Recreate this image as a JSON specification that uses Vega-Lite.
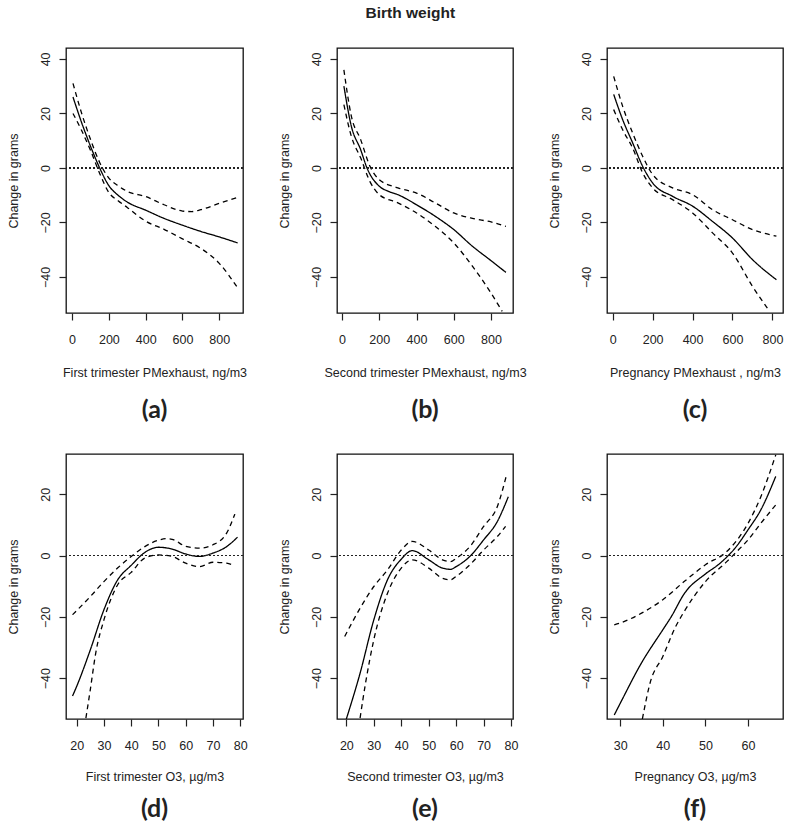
{
"$schema":"https://vega.github.io/schema/vega-lite/v6.json",
"padding":{"left":6,"top":5,"right":5,"bottom":5},
"title":{"text":"Birth weight","orient":"top","fontSize":15.5,"fontWeight":"bold","font":"Liberation Sans","color":"#222","anchor":"middle","offset":26,"dx":15},
"datasets":{"d":[
{"p":"a","s":"fit","x":5,"y":26},{"p":"a","s":"fit","x":50,"y":17},{"p":"a","s":"fit","x":100,"y":8},{"p":"a","s":"fit","x":150,"y":0},{"p":"a","s":"fit","x":200,"y":-6.5},{"p":"a","s":"fit","x":250,"y":-10},{"p":"a","s":"fit","x":300,"y":-12.5},{"p":"a","s":"fit","x":400,"y":-15.5},{"p":"a","s":"fit","x":500,"y":-18.5},{"p":"a","s":"fit","x":600,"y":-21},{"p":"a","s":"fit","x":700,"y":-23.3},{"p":"a","s":"fit","x":800,"y":-25.3},{"p":"a","s":"fit","x":900,"y":-27.5},
{"p":"a","s":"hi","x":5,"y":31},{"p":"a","s":"hi","x":50,"y":20.5},{"p":"a","s":"hi","x":100,"y":10.5},{"p":"a","s":"hi","x":150,"y":2},{"p":"a","s":"hi","x":200,"y":-3.7},{"p":"a","s":"hi","x":250,"y":-6.5},{"p":"a","s":"hi","x":300,"y":-8.6},{"p":"a","s":"hi","x":400,"y":-10.5},{"p":"a","s":"hi","x":500,"y":-13.5},{"p":"a","s":"hi","x":600,"y":-15.8},{"p":"a","s":"hi","x":650,"y":-16},{"p":"a","s":"hi","x":700,"y":-15.3},{"p":"a","s":"hi","x":800,"y":-13},{"p":"a","s":"hi","x":900,"y":-10.8},
{"p":"a","s":"lo","x":5,"y":20},{"p":"a","s":"lo","x":50,"y":14},{"p":"a","s":"lo","x":100,"y":6.5},{"p":"a","s":"lo","x":150,"y":-2},{"p":"a","s":"lo","x":200,"y":-9},{"p":"a","s":"lo","x":250,"y":-12},{"p":"a","s":"lo","x":300,"y":-14.5},{"p":"a","s":"lo","x":400,"y":-19.5},{"p":"a","s":"lo","x":500,"y":-22.5},{"p":"a","s":"lo","x":600,"y":-26},{"p":"a","s":"lo","x":700,"y":-29.5},{"p":"a","s":"lo","x":800,"y":-35},{"p":"a","s":"lo","x":900,"y":-44},
{"p":"b","s":"fit","x":10,"y":30},{"p":"b","s":"fit","x":50,"y":15.3},{"p":"b","s":"fit","x":100,"y":6.7},{"p":"b","s":"fit","x":134,"y":0},{"p":"b","s":"fit","x":200,"y":-6.7},{"p":"b","s":"fit","x":250,"y":-8.6},{"p":"b","s":"fit","x":300,"y":-9.8},{"p":"b","s":"fit","x":400,"y":-13.5},{"p":"b","s":"fit","x":500,"y":-17.7},{"p":"b","s":"fit","x":600,"y":-22.6},{"p":"b","s":"fit","x":700,"y":-28.7},{"p":"b","s":"fit","x":800,"y":-34},{"p":"b","s":"fit","x":880,"y":-38.3},
{"p":"b","s":"hi","x":10,"y":36},{"p":"b","s":"hi","x":50,"y":19},{"p":"b","s":"hi","x":100,"y":10.4},{"p":"b","s":"hi","x":150,"y":0.6},{"p":"b","s":"hi","x":200,"y":-4.3},{"p":"b","s":"hi","x":300,"y":-7.3},{"p":"b","s":"hi","x":400,"y":-9.2},{"p":"b","s":"hi","x":500,"y":-12.8},{"p":"b","s":"hi","x":600,"y":-16.5},{"p":"b","s":"hi","x":700,"y":-18.5},{"p":"b","s":"hi","x":800,"y":-19.8},{"p":"b","s":"hi","x":880,"y":-21.4},
{"p":"b","s":"lo","x":10,"y":23.2},{"p":"b","s":"lo","x":50,"y":11.6},{"p":"b","s":"lo","x":100,"y":3.7},{"p":"b","s":"lo","x":150,"y":-5},{"p":"b","s":"lo","x":200,"y":-9.8},{"p":"b","s":"lo","x":300,"y":-12.8},{"p":"b","s":"lo","x":400,"y":-16.5},{"p":"b","s":"lo","x":500,"y":-21.4},{"p":"b","s":"lo","x":600,"y":-27.5},{"p":"b","s":"lo","x":700,"y":-36},{"p":"b","s":"lo","x":800,"y":-45.9},{"p":"b","s":"lo","x":860,"y":-52.6},
{"p":"c","s":"fit","x":5,"y":27},{"p":"c","s":"fit","x":50,"y":17.7},{"p":"c","s":"fit","x":100,"y":9.2},{"p":"c","s":"fit","x":150,"y":0.6},{"p":"c","s":"fit","x":200,"y":-5.5},{"p":"c","s":"fit","x":300,"y":-10.4},{"p":"c","s":"fit","x":400,"y":-14},{"p":"c","s":"fit","x":500,"y":-19.6},{"p":"c","s":"fit","x":600,"y":-25.7},{"p":"c","s":"fit","x":700,"y":-33.6},{"p":"c","s":"fit","x":820,"y":-41},
{"p":"c","s":"hi","x":5,"y":33.6},{"p":"c","s":"hi","x":50,"y":22.6},{"p":"c","s":"hi","x":100,"y":12.8},{"p":"c","s":"hi","x":150,"y":4.3},{"p":"c","s":"hi","x":200,"y":-2.4},{"p":"c","s":"hi","x":300,"y":-7.3},{"p":"c","s":"hi","x":400,"y":-9.8},{"p":"c","s":"hi","x":500,"y":-15.3},{"p":"c","s":"hi","x":600,"y":-19},{"p":"c","s":"hi","x":700,"y":-22.6},{"p":"c","s":"hi","x":820,"y":-25},
{"p":"c","s":"lo","x":5,"y":21.4},{"p":"c","s":"lo","x":50,"y":14},{"p":"c","s":"lo","x":100,"y":7.3},{"p":"c","s":"lo","x":150,"y":-1.8},{"p":"c","s":"lo","x":200,"y":-7.3},{"p":"c","s":"lo","x":300,"y":-11.6},{"p":"c","s":"lo","x":400,"y":-16.5},{"p":"c","s":"lo","x":500,"y":-23.8},{"p":"c","s":"lo","x":600,"y":-31.2},{"p":"c","s":"lo","x":700,"y":-43.4},{"p":"c","s":"lo","x":780,"y":-52},
{"p":"d","s":"fit","x":18.5,"y":-45.8},{"p":"d","s":"fit","x":20,"y":-42.7},{"p":"d","s":"fit","x":25,"y":-30.8},{"p":"d","s":"fit","x":30,"y":-17.7},{"p":"d","s":"fit","x":35,"y":-8},{"p":"d","s":"fit","x":40,"y":-3.2},{"p":"d","s":"fit","x":45,"y":1},{"p":"d","s":"fit","x":50,"y":2.7},{"p":"d","s":"fit","x":55,"y":2.1},{"p":"d","s":"fit","x":60,"y":0.5},{"p":"d","s":"fit","x":65,"y":-0.3},{"p":"d","s":"fit","x":70,"y":0.8},{"p":"d","s":"fit","x":75,"y":2.9},{"p":"d","s":"fit","x":79,"y":6},
{"p":"d","s":"hi","x":18.5,"y":-19.3},{"p":"d","s":"hi","x":25,"y":-13.4},{"p":"d","s":"hi","x":30,"y":-8.5},{"p":"d","s":"hi","x":35,"y":-4.1},{"p":"d","s":"hi","x":40,"y":-0.3},{"p":"d","s":"hi","x":45,"y":2.9},{"p":"d","s":"hi","x":50,"y":5},{"p":"d","s":"hi","x":53,"y":5.5},{"p":"d","s":"hi","x":55,"y":5.3},{"p":"d","s":"hi","x":60,"y":3},{"p":"d","s":"hi","x":65,"y":2.4},{"p":"d","s":"hi","x":70,"y":3.5},{"p":"d","s":"hi","x":75,"y":7.3},{"p":"d","s":"hi","x":78,"y":13.5},
{"p":"d","s":"lo","x":23.4,"y":-53},{"p":"d","s":"lo","x":25,"y":-43.8},{"p":"d","s":"lo","x":27,"y":-31.8},{"p":"d","s":"lo","x":30,"y":-21},{"p":"d","s":"lo","x":35,"y":-9.6},{"p":"d","s":"lo","x":40,"y":-5.5},{"p":"d","s":"lo","x":45,"y":-0.8},{"p":"d","s":"lo","x":50,"y":0.2},{"p":"d","s":"lo","x":55,"y":-0.3},{"p":"d","s":"lo","x":60,"y":-2.5},{"p":"d","s":"lo","x":65,"y":-3.6},{"p":"d","s":"lo","x":70,"y":-2.2},{"p":"d","s":"lo","x":75,"y":-2.5},{"p":"d","s":"lo","x":78,"y":-3.4},
{"p":"e","s":"fit","x":20,"y":-53.3},{"p":"e","s":"fit","x":25,"y":-38.4},{"p":"e","s":"fit","x":30,"y":-21},{"p":"e","s":"fit","x":35,"y":-7.9},{"p":"e","s":"fit","x":40,"y":-1.2},{"p":"e","s":"fit","x":44,"y":1.6},{"p":"e","s":"fit","x":50,"y":-1.4},{"p":"e","s":"fit","x":55,"y":-4.1},{"p":"e","s":"fit","x":58,"y":-4.5},{"p":"e","s":"fit","x":60,"y":-3.6},{"p":"e","s":"fit","x":65,"y":-0.3},{"p":"e","s":"fit","x":70,"y":5.1},{"p":"e","s":"fit","x":75,"y":11.1},{"p":"e","s":"fit","x":79,"y":19.2},
{"p":"e","s":"hi","x":19.4,"y":-26.4},{"p":"e","s":"hi","x":25,"y":-17.2},{"p":"e","s":"hi","x":30,"y":-10.1},{"p":"e","s":"hi","x":35,"y":-4.7},{"p":"e","s":"hi","x":40,"y":1.8},{"p":"e","s":"hi","x":44,"y":4.6},{"p":"e","s":"hi","x":50,"y":1.8},{"p":"e","s":"hi","x":55,"y":-1.4},{"p":"e","s":"hi","x":58,"y":-2},{"p":"e","s":"hi","x":60,"y":-0.9},{"p":"e","s":"hi","x":65,"y":2.9},{"p":"e","s":"hi","x":70,"y":9.5},{"p":"e","s":"hi","x":75,"y":16},{"p":"e","s":"hi","x":78.5,"y":26.8},
{"p":"e","s":"lo","x":25,"y":-53},{"p":"e","s":"lo","x":27,"y":-41.6},{"p":"e","s":"lo","x":30,"y":-27.5},{"p":"e","s":"lo","x":35,"y":-12.3},{"p":"e","s":"lo","x":40,"y":-4.1},{"p":"e","s":"lo","x":44,"y":-1.4},{"p":"e","s":"lo","x":50,"y":-4.1},{"p":"e","s":"lo","x":55,"y":-7.4},{"p":"e","s":"lo","x":58,"y":-7.9},{"p":"e","s":"lo","x":60,"y":-6.8},{"p":"e","s":"lo","x":65,"y":-3},{"p":"e","s":"lo","x":70,"y":1.8},{"p":"e","s":"lo","x":75,"y":6.2},{"p":"e","s":"lo","x":78,"y":9.5},
{"p":"f","s":"fit","x":28.6,"y":-52},{"p":"f","s":"fit","x":30,"y":-48.2},{"p":"f","s":"fit","x":35,"y":-35},{"p":"f","s":"fit","x":40,"y":-24.2},{"p":"f","s":"fit","x":42,"y":-19.9},{"p":"f","s":"fit","x":45,"y":-12.5},{"p":"f","s":"fit","x":50,"y":-6},{"p":"f","s":"fit","x":53,"y":-3},{"p":"f","s":"fit","x":55,"y":-0.5},{"p":"f","s":"fit","x":57,"y":2.5},{"p":"f","s":"fit","x":60,"y":8.4},{"p":"f","s":"fit","x":63,"y":14.9},{"p":"f","s":"fit","x":66.5,"y":25.8},
{"p":"f","s":"hi","x":28.6,"y":-22.6},{"p":"f","s":"hi","x":30,"y":-22},{"p":"f","s":"hi","x":35,"y":-18.8},{"p":"f","s":"hi","x":40,"y":-14.4},{"p":"f","s":"hi","x":45,"y":-8.5},{"p":"f","s":"hi","x":50,"y":-3},{"p":"f","s":"hi","x":55,"y":1.3},{"p":"f","s":"hi","x":60,"y":10.5},{"p":"f","s":"hi","x":63,"y":19.2},{"p":"f","s":"hi","x":66.5,"y":32.8},
{"p":"f","s":"lo","x":35.2,"y":-53.3},{"p":"f","s":"lo","x":37,"y":-41.6},{"p":"f","s":"lo","x":40,"y":-32.9},{"p":"f","s":"lo","x":43,"y":-23.2},{"p":"f","s":"lo","x":45,"y":-18.3},{"p":"f","s":"lo","x":50,"y":-8.5},{"p":"f","s":"lo","x":55,"y":-2},{"p":"f","s":"lo","x":57,"y":0.8},{"p":"f","s":"lo","x":60,"y":5.1},{"p":"f","s":"lo","x":63,"y":10.5},{"p":"f","s":"lo","x":66.5,"y":16.5}
]},
"data":{"name":"d"},
"columns":3,
"spacing":{"row":141,"column":94},
"bounds":"flush",
"concat":[
{"width":177,"height":265,"title":{"text":"(a)","orient":"bottom"},"transform":[{"filter":"datum.p=='a'"}],"layer":[
{"mark":{"type":"line","color":"black","strokeWidth":1.3,"clip":true,"interpolate":"monotone"},"encoding":{"x":{"field":"x","type":"quantitative","scale":{"domain":[-33,929],"nice":false,"zero":false},"axis":{"values":[0,200,400,600,800]},"title":"First trimester PMexhaust, ng/m3"},"y":{"field":"y","type":"quantitative","scale":{"domain":[-53.2,44],"nice":false,"zero":false},"axis":{"values":[-40,-20,0,20,40]},"title":"Change in grams"},"strokeDash":{"field":"s","type":"nominal","scale":{"domain":["fit","lo","hi"],"range":[[1,0],[5,4],[5,4]]},"legend":null}}},
{"mark":{"type":"rule","color":"#222","strokeWidth":1.2,"strokeDash":[1.3,2.7]},"encoding":{"y":{"datum":0,"type":"quantitative"}}}]},
{"width":176,"height":265,"title":{"text":"(b)","orient":"bottom"},"transform":[{"filter":"datum.p=='b'"}],"layer":[
{"mark":{"type":"line","color":"black","strokeWidth":1.3,"clip":true,"interpolate":"monotone"},"encoding":{"x":{"field":"x","type":"quantitative","scale":{"domain":[-27,918],"nice":false,"zero":false},"axis":{"values":[0,200,400,600,800]},"title":"Second trimester PMexhaust, ng/m3"},"y":{"field":"y","type":"quantitative","scale":{"domain":[-53.2,44],"nice":false,"zero":false},"axis":{"values":[-40,-20,0,20,40]},"title":"Change in grams"},"strokeDash":{"field":"s","type":"nominal","scale":{"domain":["fit","lo","hi"],"range":[[1,0],[5,4],[5,4]]},"legend":null}}},
{"mark":{"type":"rule","color":"#222","strokeWidth":1.2,"strokeDash":[1.3,2.7]},"encoding":{"y":{"datum":0,"type":"quantitative"}}}]},
{"width":176,"height":265,"title":{"text":"(c)","orient":"bottom"},"transform":[{"filter":"datum.p=='c'"}],"layer":[
{"mark":{"type":"line","color":"black","strokeWidth":1.3,"clip":true,"interpolate":"monotone"},"encoding":{"x":{"field":"x","type":"quantitative","scale":{"domain":[-28.5,853],"nice":false,"zero":false},"axis":{"values":[0,200,400,600,800]},"title":"Pregnancy PMexhaust , ng/m3"},"y":{"field":"y","type":"quantitative","scale":{"domain":[-53.2,44],"nice":false,"zero":false},"axis":{"values":[-40,-20,0,20,40]},"title":"Change in grams"},"strokeDash":{"field":"s","type":"nominal","scale":{"domain":["fit","lo","hi"],"range":[[1,0],[5,4],[5,4]]},"legend":null}}},
{"mark":{"type":"rule","color":"#222","strokeWidth":1.2,"strokeDash":[1.3,2.7]},"encoding":{"y":{"datum":0,"type":"quantitative"}}}]},
{"width":177,"height":265,"title":{"text":"(d)","orient":"bottom","offset":14},"transform":[{"filter":"datum.p=='d'"}],"layer":[
{"mark":{"type":"line","color":"black","strokeWidth":1.3,"clip":true,"interpolate":"monotone"},"encoding":{"x":{"field":"x","type":"quantitative","scale":{"domain":[16.1,81],"nice":false,"zero":false},"axis":{"values":[20,30,40,50,60,70,80],"titlePadding":19},"title":"First trimester O3, µg/m3"},"y":{"field":"y","type":"quantitative","scale":{"domain":[-53.3,33.1],"nice":false,"zero":false},"axis":{"values":[-40,-20,0,20]},"title":"Change in grams"},"strokeDash":{"field":"s","type":"nominal","scale":{"domain":["fit","lo","hi"],"range":[[1,0],[5,4],[5,4]]},"legend":null}}},
{"mark":{"type":"rule","color":"#222","strokeWidth":1.2,"strokeDash":[1.3,2.7]},"encoding":{"y":{"datum":0,"type":"quantitative"}}}]},
{"width":176,"height":265,"title":{"text":"(e)","orient":"bottom","offset":14},"transform":[{"filter":"datum.p=='e'"}],"layer":[
{"mark":{"type":"line","color":"black","strokeWidth":1.3,"clip":true,"interpolate":"monotone"},"encoding":{"x":{"field":"x","type":"quantitative","scale":{"domain":[16.6,80.7],"nice":false,"zero":false},"axis":{"values":[20,30,40,50,60,70,80],"titlePadding":19},"title":"Second trimester O3, µg/m3"},"y":{"field":"y","type":"quantitative","scale":{"domain":[-53.3,33.1],"nice":false,"zero":false},"axis":{"values":[-40,-20,0,20]},"title":"Change in grams"},"strokeDash":{"field":"s","type":"nominal","scale":{"domain":["fit","lo","hi"],"range":[[1,0],[5,4],[5,4]]},"legend":null}}},
{"mark":{"type":"rule","color":"#222","strokeWidth":1.2,"strokeDash":[1.3,2.7]},"encoding":{"y":{"datum":0,"type":"quantitative"}}}]},
{"width":176,"height":265,"title":{"text":"(f)","orient":"bottom","offset":14},"transform":[{"filter":"datum.p=='f'"}],"layer":[
{"mark":{"type":"line","color":"black","strokeWidth":1.3,"clip":true,"interpolate":"monotone"},"encoding":{"x":{"field":"x","type":"quantitative","scale":{"domain":[26.9,68.2],"nice":false,"zero":false},"axis":{"values":[30,40,50,60],"titlePadding":19},"title":"Pregnancy O3, µg/m3"},"y":{"field":"y","type":"quantitative","scale":{"domain":[-53.3,33.1],"nice":false,"zero":false},"axis":{"values":[-40,-20,0,20]},"title":"Change in grams"},"strokeDash":{"field":"s","type":"nominal","scale":{"domain":["fit","lo","hi"],"range":[[1,0],[5,4],[5,4]]},"legend":null}}},
{"mark":{"type":"rule","color":"#222","strokeWidth":1.2,"strokeDash":[1.3,2.7]},"encoding":{"y":{"datum":0,"type":"quantitative"}}}]}
],
"config":{
"font":"Liberation Sans",
"view":{"stroke":"#111","strokeWidth":1.3},
"axis":{"domain":false,"grid":false,"tickColor":"#222","tickSize":7,"tickWidth":1.2,"labelFont":"Liberation Sans","labelFontSize":12.5,"labelColor":"#222","titleFont":"Liberation Sans","titleFontSize":12.5,"titleFontWeight":"normal","titleColor":"#222"},
"axisX":{"labelPadding":13,"titlePadding":21},
"axisY":{"labelAngle":-90,"labelAlign":"center","labelBaseline":"bottom","labelPadding":7,"titlePadding":19},
"title":{"font":"Lato","fontSize":25,"fontWeight":"bold","color":"#222","offset":19,"anchor":"middle"}
}
}
